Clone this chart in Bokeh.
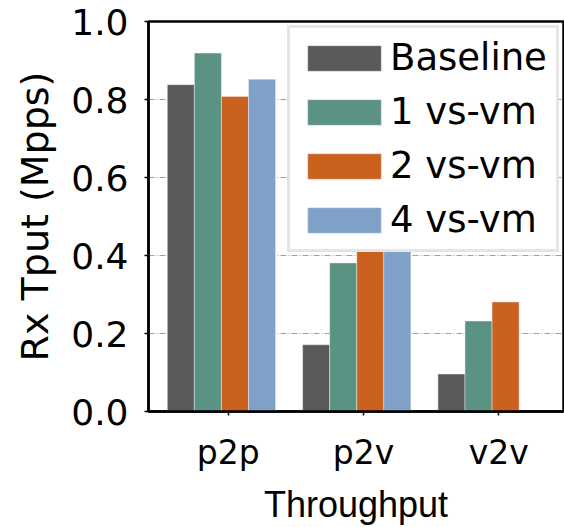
from bokeh.plotting import figure
from bokeh.models import Range1d, FixedTicker, Legend, LegendItem, ColumnDataSource
from bokeh.embed import file_html
from bokeh.resources import INLINE

# ---- data ----
groups = ["p2p", "p2v", "v2v"]
series = ["Baseline", "1 vs-vm", "2 vs-vm", "4 vs-vm"]
baseline = [0.838, 0.171, 0.096]
vs1 = [0.919, 0.381, 0.232]
vs2 = [0.808, 0.45, 0.281]
vs4 = [0.852, 0.46, 0.0]
colors = ["#5a5a5a", "#5a9283", "#ca611f", "#7fa0c7"]
y_ticks = [0.0, 0.2, 0.4, 0.6, 0.8, 1.0]

values = [baseline, vs1, vs2, vs4]
offsets = [-0.35, -0.15, 0.05, 0.25]
bar_w = 0.2

p = figure(width=564, height=527,
           x_range=Range1d(-0.589, 2.478), y_range=Range1d(0, 1.0),
           output_backend="svg", toolbar_location=None,
           min_border_left=148, min_border_right=1,
           min_border_top=21, min_border_bottom=115)

items = []
for name, vals, off, col in zip(series, values, offsets, colors):
    src = ColumnDataSource(dict(x=[i + off for i in range(len(groups))], top=vals))
    r = p.vbar(x="x", top="top", width=bar_w, bottom=0, source=src,
               fill_color=col, line_color="#e8eeee", line_width=0.5)
    items.append(LegendItem(label=name, renderers=[r]))

# outline / axes
p.outline_line_color = "black"
p.outline_line_width = 2.5
p.outline_line_alpha = 1

p.xgrid.visible = False
p.ygrid.ticker = FixedTicker(ticks=y_ticks)
p.ygrid.grid_line_color = "#a0a0a0"
p.ygrid.grid_line_dash = "6 2 1 2"
p.ygrid.grid_line_width = 1

yax = p.yaxis[0]
yax.ticker = FixedTicker(ticks=y_ticks)
yax.major_label_overrides = {t: f"{t:.1f}" for t in y_ticks}
yax.major_label_text_font = "DejaVu Sans"
yax.major_label_text_font_size = "36px"
yax.major_label_text_color = "black"
yax.major_tick_out = 4
yax.major_tick_in = 0
yax.minor_tick_out = 0
yax.minor_tick_in = 0
yax.major_tick_line_width = 1.5
yax.major_label_standoff = 16
yax.axis_line_width = 2.5
yax.axis_label = "Rx Tput (Mpps)"
yax.axis_label_text_font = "DejaVu Sans"
yax.axis_label_text_font_size = "38px"
yax.axis_label_text_font_style = "normal"
yax.axis_label_text_color = "black"
yax.axis_label_standoff = 11

xax = p.xaxis[0]
xax.ticker = FixedTicker(ticks=list(range(len(groups))))
xax.major_label_overrides = {i: g for i, g in enumerate(groups)}
xax.major_label_text_font = "DejaVu Sans"
xax.major_label_text_font_size = "33px"
xax.major_label_text_color = "black"
xax.major_tick_out = 4
xax.major_tick_in = 0
xax.minor_tick_out = 0
xax.minor_tick_in = 0
xax.major_tick_line_width = 1.5
xax.major_label_standoff = 17
xax.axis_line_width = 2.5
xax.axis_label = "Throughput"
xax.axis_label_text_font = "Liberation Sans"
xax.axis_label_text_font_size = "36px"
xax.axis_label_text_font_style = "normal"
xax.axis_label_text_color = "black"
xax.axis_label_standoff = 9

legend = Legend(items=items, location="top_right", margin=4,
                glyph_width=92, glyph_height=32, label_standoff=0,
                label_width=158, padding=8, spacing=11,
                label_text_font="DejaVu Sans", label_text_font_size="37px",
                label_text_color="black",
                border_line_color="#cccccc", border_line_width=3,
                background_fill_color="white", background_fill_alpha=1)
p.add_layout(legend, "center")

open("out.html", "w").write(file_html(p, INLINE))
